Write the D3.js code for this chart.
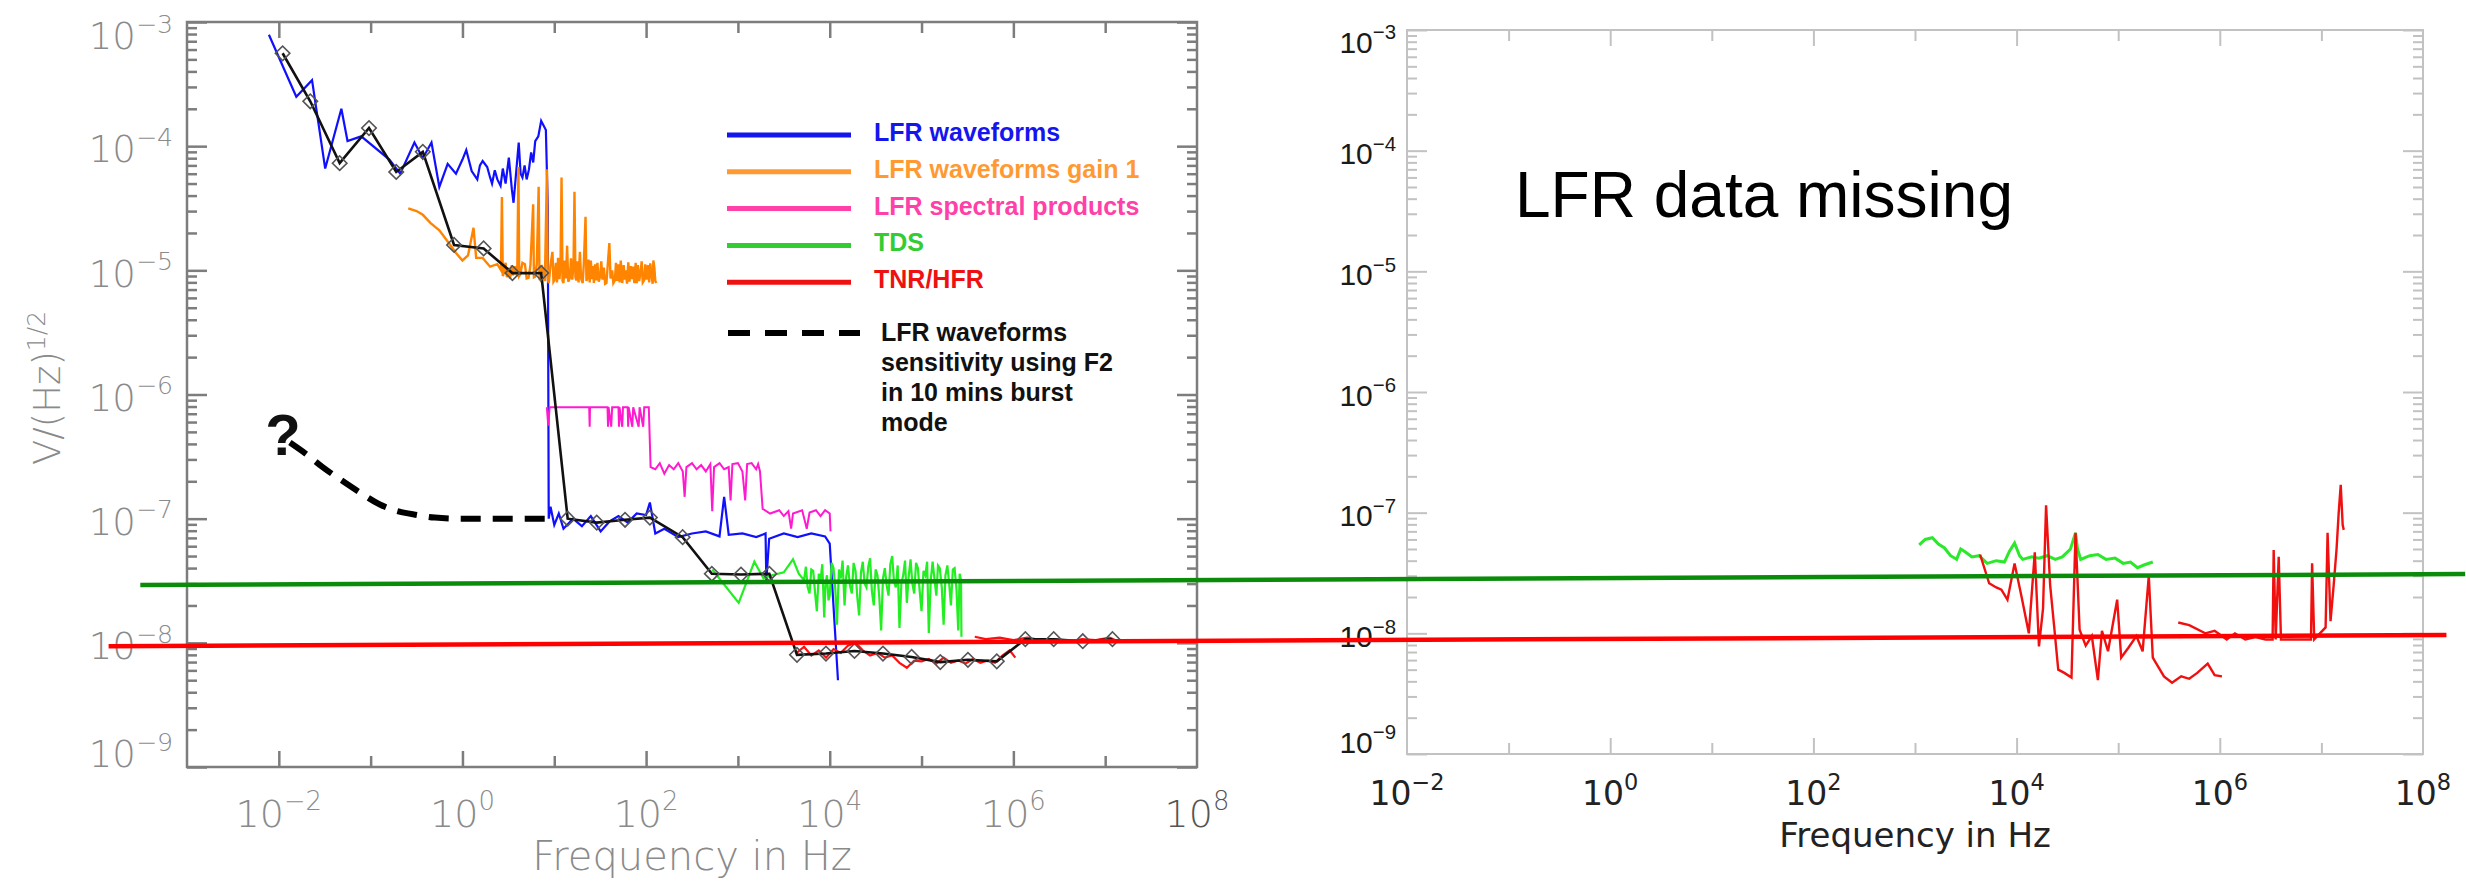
<!DOCTYPE html>
<html>
<head>
<meta charset="utf-8">
<script src="https://cdn.jsdelivr.net/npm/d3@7"></script>
<style>
  html, body { margin: 0; padding: 0; background: #fff; }
  svg { display: block; }
</style>
</head>
<body>
<script>
// ---- data: [frequency Hz, V/Hz^1/2] ----
var lfrWaveforms = [
  [0.0078, 7.9e-4], [0.0155, 2.5e-4], [0.023, 3.4e-4], [0.032, 6.6e-5], [0.048, 2.0e-4], [0.056, 1.1e-4],
  [0.079, 1.2e-4], [0.16, 7.8e-5], [0.21, 6.0e-5], [0.30, 1.07e-4], [0.37, 8.0e-5], [0.46, 1.07e-4],
  [0.56, 4.7e-5], [0.69, 7.2e-5], [0.85, 6.0e-5], [1.0, 7.8e-5], [1.1, 9.3e-5], [1.26, 6.3e-5], [1.45, 5.4e-5],
  [1.55, 7.0e-5], [1.66, 7.6e-5], [1.86, 6.8e-5], [2.0, 5.6e-5], [2.1, 5.0e-5], [2.25, 6.4e-5], [2.4, 5.4e-5],
  [2.6, 4.8e-5], [2.75, 6.6e-5], [2.95, 5.0e-5], [3.2, 8.1e-5], [3.45, 4.5e-5], [3.6, 3.5e-5], [4.1, 1.07e-4],
  [4.3, 6.0e-5], [4.5, 5.6e-5], [4.75, 7.0e-5], [5.0, 5.4e-5], [5.3, 6.5e-5], [5.6, 8.9e-5], [5.9, 7.4e-5],
  [6.2, 1.1e-4], [6.7, 1.2e-4], [7.2, 1.6e-4], [8.1, 1.35e-4], [8.5, 3.2e-5], [8.7, 1.0e-7], [9.1, 1.25e-7],
  [10, 8.9e-8], [11.2, 1.1e-7], [12.6, 8.3e-8], [16, 1.0e-7], [20, 8.7e-8], [25, 1.05e-7],
  [32, 7.9e-8], [40, 9.5e-8], [50, 1.05e-7], [63, 9.3e-8], [79, 1.1e-7], [100, 1.07e-7],
  [110, 1.35e-7], [126, 7.6e-8], [158, 8.3e-8], [224, 7.1e-8], [316, 7.6e-8], [447, 7.9e-8],
  [630, 7.2e-8], [708, 1.5e-7], [794, 7.4e-8], [1120, 7.6e-8], [1585, 7.1e-8], [2000, 7.6e-8],
  [2040, 3.2e-8], [2190, 6.9e-8], [3160, 7.6e-8], [4470, 7.1e-8], [6300, 7.6e-8], [8900, 7.2e-8],
  [10000, 6.3e-8], [12300, 5e-9]
];

var lfrGain1 = [
  [0.257, 3.16e-5], [0.316, 3.0e-5], [0.37, 2.8e-5], [0.45, 2.4e-5], [0.56, 2.1e-5], [0.71, 1.66e-5],
  [0.85, 1.38e-5], [1.0, 1.2e-5], [1.15, 1.32e-5], [1.32, 2.2e-5], [1.41, 1.26e-5], [1.66, 1.26e-5],
  [2.0, 1.07e-5], [2.4, 1.12e-5], [2.63, 1.0e-5], [2.69, 3.9e-5], [2.75, 9.0e-6], [2.82, 9.5e-6],
  [2.95, 1.15e-5], [3.05, 8.8e-6], [3.16, 1.05e-5], [3.3, 8.6e-6], [3.45, 1.1e-5], [3.55, 9.1e-6],
  [3.75, 1.08e-5], [3.95, 8.9e-6], [4.07, 6.8e-5], [4.15, 9.0e-6], [4.27, 9.3e-6], [4.5, 1.15e-5],
  [4.79, 1.12e-5], [5.0, 8.6e-6], [5.25, 8.7e-6], [5.5, 1.1e-5], [5.89, 3.4e-5], [6.0, 8.8e-6],
  [6.17, 8.9e-6], [6.45, 1.12e-5], [6.76, 4.7e-5], [6.9, 8.5e-6], [7.08, 8.3e-6], [7.3, 1.1e-5],
  [7.59, 1.0e-5], [7.9, 8.2e-6], [8.32, 6.5e-5], [8.5, 8.4e-6], [8.71, 7.9e-6], [9.1, 1.1e-5],
  [9.55, 1.41e-5], [9.8, 8.1e-6], [10, 8.3e-6], [10.4, 1.15e-5], [10.7, 8.0e-6], [11, 1.26e-5],
  [11.4, 8.5e-6], [11.7, 1.1e-5], [12, 5.6e-5], [12.3, 8.2e-6], [12.6, 7.9e-6], [13, 1.2e-5],
  [13.4, 8.6e-6], [13.8, 1.58e-5], [14.2, 8.1e-6], [14.8, 8.7e-6], [15.2, 1.25e-5], [15.7, 8.4e-6],
  [16.2, 1.1e-5], [16.6, 4.3e-5], [17, 8.8e-6], [17.4, 8.3e-6], [17.9, 1.18e-5], [18.4, 8.0e-6],
  [19, 1.41e-5], [19.6, 8.6e-6], [20.4, 7.9e-6], [21, 1.15e-5], [21.9, 2.7e-5], [22.4, 8.2e-6],
  [22.9, 8.7e-6], [23.6, 1.22e-5], [24.3, 8.0e-6], [25, 1.2e-5], [25.8, 8.5e-6], [26.4, 1.08e-5],
  [27, 7.9e-6], [27.8, 1.12e-5], [28.6, 8.3e-6], [29.5, 1.15e-5], [30.5, 8.1e-6], [31.6, 8.9e-6],
  [32.5, 1.18e-5], [33.5, 8.4e-6], [34.7, 1.05e-5], [35.8, 7.8e-6], [37, 7.9e-6], [38.3, 1.13e-5],
  [39.8, 1.66e-5], [41, 8.6e-6], [42.7, 1.0e-5], [44, 7.9e-6], [45.7, 8.3e-6], [47, 1.15e-5],
  [48.5, 8.2e-6], [50, 1.12e-5], [51.5, 8.0e-6], [53, 1.2e-5], [55, 7.9e-6], [57, 1.1e-5],
  [58.5, 8.4e-6], [60, 1.0e-5], [62, 7.8e-6], [64, 1.16e-5], [66, 8.1e-6], [68, 1.08e-5],
  [70, 8.5e-6], [72, 1.07e-5], [74.5, 7.9e-6], [77, 1.15e-5], [79, 7.9e-6], [81.5, 1.1e-5],
  [84, 8.2e-6], [87, 9.5e-6], [89.5, 1.18e-5], [92, 8.0e-6], [95, 8.3e-6], [98, 1.12e-5],
  [101, 8.4e-6], [105, 1.1e-5], [108, 8.0e-6], [111, 1.14e-5], [115, 8.9e-6], [118, 7.8e-6],
  [120, 1.2e-5], [123, 1.05e-5], [126, 8.2e-6], [129, 7.9e-6]
];

var lfrSpectral = [
  [8.3, 7.9e-7], [8.6, 5.6e-7], [8.9, 7.9e-7], [15.8, 7.9e-7], [24, 7.9e-7], [24.3, 5.5e-7],
  [24.5, 7.9e-7], [38, 7.9e-7], [38.5, 5.5e-7], [39, 7.9e-7], [41.7, 5.5e-7], [42.7, 7.9e-7],
  [50, 7.9e-7], [50.7, 5.5e-7], [51.3, 7.9e-7], [55, 5.5e-7], [56, 7.9e-7], [63, 7.9e-7],
  [63.8, 5.5e-7], [64.5, 7.9e-7], [70.8, 5.5e-7], [72.4, 7.9e-7], [83, 5.5e-7], [85, 7.9e-7],
  [93, 5.5e-7], [95.5, 7.9e-7], [107, 7.9e-7], [112, 2.6e-7], [126, 2.5e-7], [141, 2.8e-7],
  [158, 2.3e-7], [178, 2.7e-7], [200, 2.5e-7], [224, 2.8e-7], [251, 2.4e-7], [263, 1.5e-7],
  [275, 2.6e-7], [316, 2.8e-7], [355, 2.5e-7], [398, 2.7e-7], [447, 2.4e-7], [501, 2.75e-7],
  [525, 1.15e-7], [550, 2.6e-7], [631, 2.8e-7], [708, 2.5e-7], [794, 2.6e-7], [832, 1.4e-7],
  [871, 2.75e-7], [1000, 2.8e-7], [1120, 2.4e-7], [1200, 1.4e-7], [1260, 2.75e-7], [1410, 2.8e-7],
  [1580, 2.5e-7], [1660, 2.75e-7], [1740, 2.4e-7], [1860, 1.2e-7], [2240, 1.1e-7], [2820, 1.17e-7],
  [3160, 1.05e-7], [3550, 1.15e-7], [3800, 8.3e-8], [3980, 1.1e-7], [5010, 1.17e-7], [5620, 8.3e-8],
  [6030, 1.12e-7], [7080, 1.17e-7], [7940, 1.05e-7], [8910, 1.17e-7], [10000, 1.1e-7], [10200, 7.9e-8]
];

var tdsLeft = [
  [525, 3.9e-8], [1020, 2.1e-8], [1510, 4.5e-8], [1900, 3.3e-8], [2340, 3.5e-8], [3160, 3.7e-8],
  [3980, 4.7e-8], [4600, 3.6e-8], [5250, 3.2e-8], [5500, 4.1e-8], [5750, 2.8e-8], [6030, 2.5e-8],
  [6300, 3.9e-8], [6610, 3.8e-8], [6900, 2.6e-8], [7240, 1.8e-8], [7600, 3.6e-8], [7940, 3.2e-8],
  [8300, 4.3e-8], [8710, 1.6e-8], [9000, 3.0e-8], [9330, 3.5e-8], [9700, 2.2e-8], [10000, 2.4e-8],
  [10500, 4.4e-8], [11000, 4.0e-8], [11500, 2.7e-8], [12000, 1.4e-8], [12600, 3.9e-8], [13200, 3.3e-8],
  [13800, 4.6e-8], [14500, 2.0e-8], [15100, 3.4e-8], [15800, 4.2e-8], [16600, 2.9e-8], [17400, 2.5e-8],
  [18200, 4.4e-8], [19100, 3.8e-8], [20000, 2.3e-8], [20900, 1.66e-8], [21900, 3.7e-8], [22900, 4.5e-8],
  [24000, 3.0e-8], [25100, 2.8e-8], [26300, 4.1e-8], [27500, 4.8e-8], [28800, 2.6e-8], [30200, 2.0e-8],
  [31600, 3.9e-8], [33100, 3.5e-8], [34700, 2.3e-8], [36300, 1.26e-8], [38000, 3.3e-8], [39800, 4.0e-8],
  [41700, 2.9e-8], [43700, 2.4e-8], [45700, 4.3e-8], [47900, 5.0e-8], [50100, 3.1e-8], [52500, 2.8e-8],
  [55000, 4.2e-8], [57500, 1.32e-8], [60300, 3.0e-8], [63100, 3.5e-8], [66100, 4.6e-8], [69200, 2.1e-8],
  [72400, 3.4e-8], [75900, 4.7e-8], [79400, 3.0e-8], [83200, 2.5e-8], [87100, 4.4e-8], [91200, 4.0e-8],
  [95500, 2.6e-8], [1.0e5, 1.8e-8], [1.05e5, 3.8e-8], [1.1e5, 3.5e-8], [1.15e5, 4.5e-8], [1.2e5, 1.2e-8],
  [1.26e5, 3.2e-8], [1.32e5, 4.5e-8], [1.38e5, 3.3e-8], [1.45e5, 2.4e-8], [1.51e5, 4.2e-8], [1.58e5, 4.0e-8],
  [1.66e5, 2.8e-8], [1.74e5, 1.4e-8], [1.82e5, 3.5e-8], [1.91e5, 4.2e-8], [2.0e5, 3.0e-8], [2.09e5, 2.0e-8],
  [2.19e5, 3.9e-8], [2.29e5, 4.0e-8], [2.4e5, 2.7e-8], [2.51e5, 1.26e-8], [2.6e5, 3.6e-8], [2.69e5, 3.2e-8],
  [2.72e5, 1.12e-8]
];

var tnrLeftA = [
  [4370, 8.3e-9], [5250, 9.3e-9], [6310, 7.9e-9], [7590, 8.7e-9], [9120, 7.6e-9], [11000, 8.9e-9],
  [13200, 8.3e-9], [15800, 9.5e-9], [19100, 1.0e-8], [22900, 8.7e-9], [27500, 7.9e-9], [33100, 8.3e-9],
  [39800, 7.6e-9], [47900, 7.9e-9], [57500, 6.9e-9], [69200, 6.3e-9], [83200, 7.2e-9], [1.0e5, 7.1e-9],
  [1.2e5, 7.4e-9], [1.45e5, 6.8e-9], [1.74e5, 7.6e-9], [2.09e5, 6.9e-9], [2.51e5, 7.2e-9], [3.02e5, 6.8e-9],
  [3.63e5, 7.4e-9], [4.37e5, 6.9e-9], [5.25e5, 7.2e-9], [6.31e5, 6.9e-9], [7.59e5, 7.9e-9], [9.12e5, 8.7e-9],
  [1.05e6, 7.6e-9]
];
var tnrLeftB = [
  [3.8e5, 1.12e-8], [5.0e5, 1.07e-8], [7.1e5, 1.1e-8], [1.0e6, 1.05e-8], [1.41e6, 1.1e-8], [2.0e6, 1.05e-8],
  [2.8e6, 1.07e-8], [4.0e6, 1.02e-8], [5.6e6, 1.07e-8], [7.9e6, 1.05e-8], [1.12e7, 1.1e-8], [1.41e7, 1.02e-8],
  [1.74e7, 1.05e-8]
];

var sensitivity = [
  [0.011, 5.6e-4], [0.022, 2.3e-4], [0.046, 7.3e-5], [0.096, 1.4e-4], [0.19, 6.2e-5], [0.37, 9.0e-5],
  [0.81, 1.6e-5], [1.7, 1.5e-5], [3.5, 9.5e-6], [7.2, 9.5e-6], [14, 1.0e-7], [29, 9.3e-8],
  [59, 9.8e-8], [110, 1.02e-7], [250, 7.1e-8], [520, 3.6e-8], [1080, 3.55e-8], [2200, 3.6e-8],
  [4400, 8.0e-9], [9100, 8.2e-9], [18600, 8.6e-9], [38000, 8.2e-9], [78000, 7.7e-9], [1.6e5, 7.0e-9],
  [3.2e5, 7.3e-9], [6.6e5, 7.1e-9], [1.35e6, 1.07e-8], [2.75e6, 1.07e-8], [5.7e6, 1.03e-8], [1.2e7, 1.07e-8]
];

var burstF2 = [
  [0.0132, 4.1e-7], [0.02, 3.3e-7], [0.030, 2.6e-7], [0.05, 2.0e-7], [0.079, 1.6e-7], [0.126, 1.3e-7],
  [0.18, 1.17e-7], [0.32, 1.07e-7], [0.5, 1.02e-7], [1.0, 1.0e-7], [10.5, 1.0e-7]
];

var tdsRight = [
  [1100, 5.4e-8], [1260, 6.0e-8], [1480, 6.2e-8], [1700, 5.5e-8], [1950, 5.1e-8], [2240, 4.4e-8],
  [2570, 4.1e-8], [2820, 5.0e-8], [3160, 4.7e-8], [3630, 4.3e-8], [4270, 4.4e-8], [5130, 3.8e-8],
  [6310, 4.0e-8], [7590, 3.9e-8], [8510, 4.8e-8], [9550, 5.6e-8], [10700, 4.4e-8], [11500, 4.1e-8],
  [14100, 4.3e-8], [16600, 4.2e-8], [20000, 4.4e-8], [24000, 4.1e-8], [28200, 4.3e-8], [33900, 5.0e-8],
  [38000, 6.8e-8], [39800, 5.0e-8], [42700, 4.1e-8], [52500, 4.4e-8], [63100, 4.5e-8], [75900, 4.1e-8],
  [93300, 4.2e-8], [1.12e5, 3.8e-8], [1.32e5, 3.9e-8], [1.55e5, 3.5e-8], [1.82e5, 3.7e-8], [2.19e5, 3.9e-8]
];

var tnrRightA = [
  [4370, 4.5e-8], [5370, 2.6e-8], [6310, 2.4e-8], [7080, 2.3e-8], [8130, 1.9e-8], [9550, 3.8e-8],
  [11200, 2.0e-8], [13200, 1.0e-8], [15100, 4.7e-8], [16600, 7.8e-9], [18200, 1.6e-8], [19500, 1.15e-7],
  [21400, 2.5e-8], [23400, 1.15e-8], [25700, 5.0e-9], [29500, 4.7e-9], [34700, 4.3e-9], [38000, 6.8e-8],
  [41700, 1.07e-8], [47900, 7.9e-9], [55000, 9.5e-9], [63100, 4.1e-9], [69200, 1.05e-8], [79400, 7.1e-9],
  [97700, 1.9e-8], [1.07e5, 6.3e-9], [1.26e5, 7.6e-9], [1.51e5, 9.5e-9], [1.74e5, 7.1e-9], [2.0e5, 3.0e-8],
  [2.19e5, 6.3e-9], [2.82e5, 4.4e-9], [3.39e5, 3.9e-9], [4.17e5, 4.4e-9], [5.0e5, 4.2e-9], [6.0e5, 4.7e-9],
  [7.6e5, 5.6e-9], [8.9e5, 4.5e-9], [1.05e6, 4.4e-9]
];
var tnrRightB = [
  [3.9e5, 1.23e-8], [5.0e5, 1.17e-8], [7.2e5, 1.0e-8], [8.9e5, 1.05e-8], [1.17e6, 8.9e-9], [1.41e6, 1.0e-8],
  [1.78e6, 8.9e-9], [2.24e6, 9.3e-9], [2.82e6, 8.9e-9], [3.31e6, 8.9e-9], [3.39e6, 4.9e-8], [3.55e6, 8.9e-9],
  [3.8e6, 4.3e-8], [4.0e6, 8.9e-9], [5.6e6, 8.9e-9], [7.9e6, 8.9e-9], [8.1e6, 3.8e-8], [8.5e6, 8.9e-9],
  [1.1e7, 1.12e-8], [1.15e7, 6.8e-8], [1.23e7, 1.26e-8], [1.32e7, 2.5e-8], [1.41e7, 5.0e-8], [1.48e7, 1.0e-7],
  [1.55e7, 1.7e-7], [1.62e7, 7.9e-8], [1.66e7, 7.2e-8]
];

// level marks drawn across both panels: left end in left-panel units, right end in right-panel units
var tdsLevel = { left: [3.1e-4, 2.92e-8], right: [2.6e8, 3.1e-8] };
var tnrLevel = { left: [1.4e-4, 9.4e-9], right: [1.7e8, 9.7e-9] };

var legendNames = ['LFR waveforms', 'LFR waveforms gain 1', 'LFR spectral products', 'TDS', 'TNR/HFR'];
var dashedNote = ['LFR waveforms', 'sensitivity using F2', 'in 10 mins burst', 'mode'];
var yExponents = [-3, -4, -5, -6, -7, -8, -9];
var xExponents = [-2, 0, 2, 4, 6, 8];

// ---- layout ----
var W = 2466, H = 886;
var thinFont = "'DejaVu Sans', 'Open Sans', sans-serif";
var helv = "'Liberation Sans', Arial, Helvetica, sans-serif";

var svg = d3.select('body').append('svg')
  .attr('width', W)
  .attr('height', H);
svg.append('rect').attr('width', W).attr('height', H).attr('fill', '#fff');

var xL = d3.scaleLog().domain([1e-3, 1e8]).range([187, 1197]);
var yL = d3.scaleLog().domain([1e-9, 1e-3]).range([767, 22]);
var xR = d3.scaleLog().domain([1e-2, 1e8]).range([1407, 2423]);
var yR = d3.scaleLog().domain([1e-9, 1e-3]).range([754, 30]);

function isDecade(v) {
  var l = Math.log10(v);
  return Math.abs(l - Math.round(l)) < 1e-6;
}

function drawFrame(x, y, color, width) {
  var g = svg.append('g');
  var x0 = x.range()[0], x1 = x.range()[1], y0 = y.range()[1], y1 = y.range()[0];
  var lo = Math.round(Math.log10(x.domain()[0])), hi = Math.round(Math.log10(x.domain()[1]));
  var xEven = [], xOdd = [];
  for (var e = lo + 1; e < hi; e++) (e % 2 === 0 ? xEven : xOdd).push(Math.pow(10, e));
  var yMajor = y.ticks().filter(isDecade);
  var yMinor = y.ticks().filter(function(v) { return !isDecade(v); });

  function axis(a, vals, size) {
    g.append('g')
      .attr('transform', a.t)
      .call(a.f.tickValues(vals).tickSize(size).tickSizeOuter(0).tickFormat(''))
      .call(function(s) { s.select('.domain').remove(); s.selectAll('line').attr('stroke', color).attr('stroke-width', width); });
  }
  axis({ t: 'translate(0,' + y1 + ')', f: d3.axisBottom(x) }, xEven, -16);
  axis({ t: 'translate(0,' + y1 + ')', f: d3.axisBottom(x) }, xOdd, -11);
  axis({ t: 'translate(0,' + y0 + ')', f: d3.axisTop(x) }, xEven, -16);
  axis({ t: 'translate(0,' + y0 + ')', f: d3.axisTop(x) }, xOdd, -11);
  axis({ t: 'translate(' + x0 + ',0)', f: d3.axisLeft(y) }, yMajor, -20);
  axis({ t: 'translate(' + x0 + ',0)', f: d3.axisLeft(y) }, yMinor, -10);
  axis({ t: 'translate(' + x1 + ',0)', f: d3.axisRight(y) }, yMajor, -20);
  axis({ t: 'translate(' + x1 + ',0)', f: d3.axisRight(y) }, yMinor, -10);

  g.append('rect')
    .attr('x', x0).attr('y', y0)
    .attr('width', x1 - x0).attr('height', y1 - y0)
    .attr('fill', 'none').attr('stroke', color).attr('stroke-width', width);
}

function powText(sel, e, fs) {
  sel.append('tspan').text('10');
  sel.append('tspan')
    .attr('dy', -0.45 * fs)
    .attr('font-size', fs * 0.68)
    .text(e < 0 ? '\u2212' + (-e) : String(e));
}

// extreme decade labels sit a little inside the frame
function labelNudge(e, top, bottom) {
  return e === -3 ? top : e === -9 ? bottom : 3;
}

function line(x, y) {
  return d3.line().x(function(d) { return x(d[0]); }).y(function(d) { return y(d[1]); });
}

// ---- left panel ----
drawFrame(xL, yL, '#7d7d7d', 2.5);

yExponents.forEach(function(e) {
  var fs = 37;
  var t = svg.append('text')
    .attr('x', 173)
    .attr('y', yL(Math.pow(10, e)) + labelNudge(e, 14, -13) + fs * 0.36)
    .attr('text-anchor', 'end')
    .attr('font-family', thinFont).attr('font-weight', 200)
    .attr('font-size', fs).attr('fill', '#8a8a8a');
  powText(t, e, fs);
});

xExponents.forEach(function(e) {
  var fs = 38;
  var t = svg.append('text')
    .attr('x', xL(Math.pow(10, e)))
    .attr('y', 827)
    .attr('text-anchor', 'middle')
    .attr('font-family', thinFont).attr('font-weight', 200)
    .attr('font-size', fs).attr('fill', e === 8 ? '#555' : '#8a8a8a');
  powText(t, e, fs);
});

svg.append('text')
  .attr('x', 692).attr('y', 870)
  .attr('text-anchor', 'middle')
  .attr('font-family', thinFont).attr('font-weight', 200)
  .attr('font-size', 40).attr('fill', '#8a8a8a')
  .text('Frequency in Hz');

var yTitle = svg.append('text')
  .attr('transform', 'translate(60,388) rotate(-90)')
  .attr('text-anchor', 'middle')
  .attr('font-family', thinFont).attr('font-weight', 200)
  .attr('font-size', 37).attr('fill', '#8a8a8a');
yTitle.append('tspan').text('V/(Hz)');
yTitle.append('tspan').attr('dy', -15).attr('font-size', 25).text('1/2');

var plotL = svg.append('g');
plotL.append('path').datum(lfrWaveforms)
  .attr('d', line(xL, yL)).attr('fill', 'none').attr('stroke', '#1010ff').attr('stroke-width', 2.2);
plotL.append('path').datum(lfrGain1)
  .attr('d', line(xL, yL)).attr('fill', 'none').attr('stroke', '#ff8400').attr('stroke-width', 2.4);
plotL.append('path').datum(lfrSpectral)
  .attr('d', line(xL, yL)).attr('fill', 'none').attr('stroke', '#ff1ad0').attr('stroke-width', 2);
plotL.append('path').datum(tdsLeft)
  .attr('d', line(xL, yL)).attr('fill', 'none').attr('stroke', '#22ee22').attr('stroke-width', 2.2);
[tnrLeftA, tnrLeftB].forEach(function(s) {
  plotL.append('path').datum(s)
    .attr('d', line(xL, yL)).attr('fill', 'none').attr('stroke', '#ff1010').attr('stroke-width', 2.2);
});
plotL.append('path').datum(sensitivity)
  .attr('d', line(xL, yL)).attr('fill', 'none').attr('stroke', '#111').attr('stroke-width', 2.6);
plotL.selectAll('path.diamond').data(sensitivity).enter().append('path')
  .attr('class', 'diamond')
  .attr('d', d3.symbol().type(d3.symbolSquare).size(105))
  .attr('transform', function(d) { return 'translate(' + xL(d[0]) + ',' + yL(d[1]) + ') rotate(45)'; })
  .attr('fill', 'none').attr('stroke', '#555').attr('stroke-width', 1.6);

plotL.append('path').datum(burstF2)
  .attr('d', line(xL, yL).curve(d3.curveMonotoneX))
  .attr('fill', 'none').attr('stroke', '#000').attr('stroke-width', 6)
  .attr('stroke-dasharray', '20,12');
svg.append('text')
  .attr('x', 283).attr('y', 455)
  .attr('text-anchor', 'middle')
  .attr('font-family', helv).attr('font-weight', 'bold')
  .attr('font-size', 58).attr('fill', '#111')
  .text('?');

// legend
var legendColors = ['#1515ee', '#ff9a33', '#ff40a8', '#33cc33', '#ee1111'];
var legend = svg.append('g').attr('font-family', helv).attr('font-weight', 'bold').attr('font-size', 25);
legendNames.forEach(function(name, i) {
  var ly = 135 + i * 36.8;
  legend.append('line')
    .attr('x1', 727).attr('x2', 851).attr('y1', ly).attr('y2', ly)
    .attr('stroke', legendColors[i]).attr('stroke-width', 5);
  legend.append('text')
    .attr('x', 874).attr('y', ly + 6)
    .attr('fill', legendColors[i])
    .text(name);
});
legend.append('line')
  .attr('x1', 728).attr('x2', 860).attr('y1', 333).attr('y2', 333)
  .attr('stroke', '#000').attr('stroke-width', 6).attr('stroke-dasharray', '22,15');
dashedNote.forEach(function(s, i) {
  legend.append('text')
    .attr('x', 881).attr('y', 341 + i * 30)
    .attr('fill', '#111')
    .text(s);
});

// ---- right panel ----
drawFrame(xR, yR, '#c2c2c2', 2);

yExponents.forEach(function(e) {
  var fs = 30;
  var t = svg.append('text')
    .attr('x', 1396)
    .attr('y', yR(Math.pow(10, e)) + labelNudge(e, 12, -12) + fs * 0.36)
    .attr('text-anchor', 'end')
    .attr('font-family', helv)
    .attr('font-size', fs).attr('fill', '#1a1a1a');
  powText(t, e, fs);
});

xExponents.forEach(function(e) {
  var fs = 33;
  var t = svg.append('text')
    .attr('x', xR(Math.pow(10, e)))
    .attr('y', 805)
    .attr('text-anchor', 'middle')
    .attr('font-family', thinFont)
    .attr('font-size', fs).attr('fill', '#222');
  powText(t, e, fs);
});

svg.append('text')
  .attr('x', 1915).attr('y', 847)
  .attr('text-anchor', 'middle')
  .attr('font-family', thinFont)
  .attr('font-size', 34).attr('fill', '#222')
  .text('Frequency in Hz');

svg.append('text')
  .attr('x', 1515).attr('y', 217)
  .attr('font-family', helv)
  .attr('font-size', 64).attr('fill', '#000')
  .text('LFR data missing');

var plotR = svg.append('g');
plotR.append('path').datum(tdsRight)
  .attr('d', line(xR, yR)).attr('fill', 'none').attr('stroke', '#2be82b').attr('stroke-width', 3);
[tnrRightA, tnrRightB].forEach(function(s) {
  plotR.append('path').datum(s)
    .attr('d', line(xR, yR)).attr('fill', 'none').attr('stroke', '#f01010').attr('stroke-width', 2.4);
});

// ---- level marks across both panels ----
[[tdsLevel, '#0a8c0a'], [tnrLevel, '#ff0000']].forEach(function(p) {
  var lv = p[0];
  svg.append('line')
    .attr('x1', xL(lv.left[0])).attr('y1', yL(lv.left[1]))
    .attr('x2', xR(lv.right[0])).attr('y2', yR(lv.right[1]))
    .attr('stroke', p[1]).attr('stroke-width', 4.5);
});
</script>
</body>
</html>
